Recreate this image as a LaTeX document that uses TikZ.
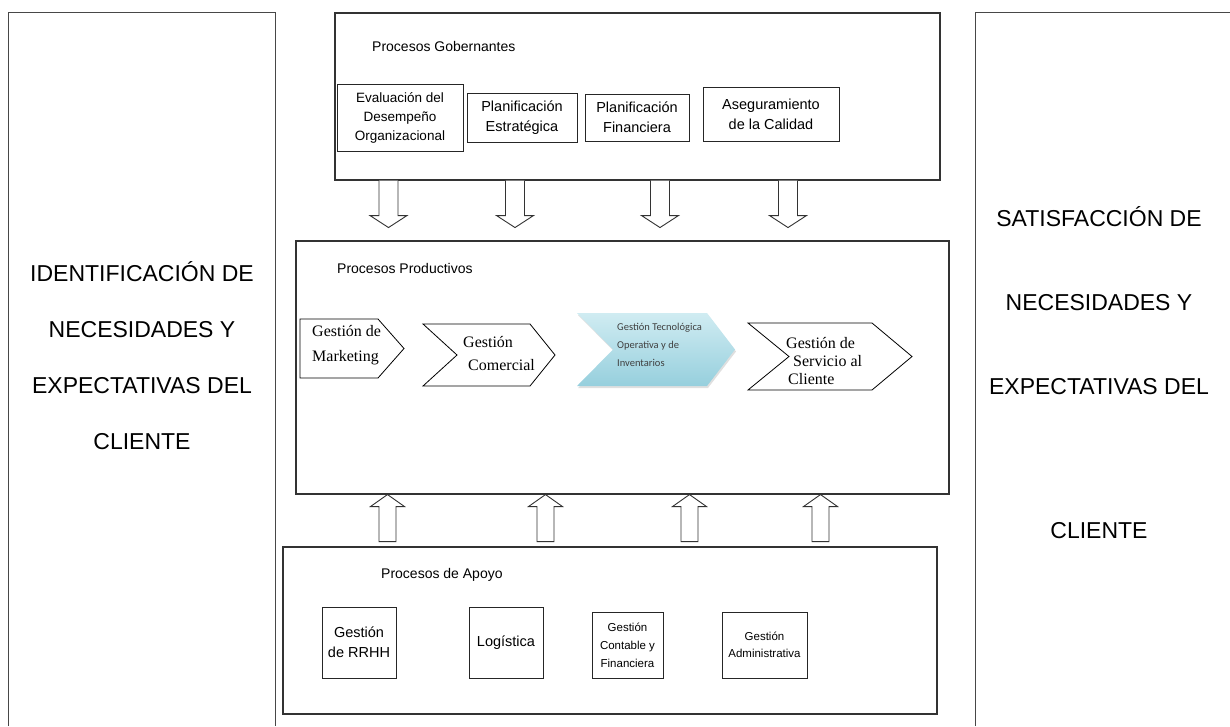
\documentclass[tikz,border=0pt]{standalone}
\usepackage{fontspec}
\setmainfont{Liberation Sans}
\newfontfamily\timesf{Liberation Serif}
\newfontfamily\calib{Carlito}
\usetikzlibrary{shadows}
\definecolor{tecTop}{RGB}{208,236,242}
\definecolor{tecBot}{RGB}{150,207,221}
\begin{document}
\begin{tikzpicture}[x=1pt,y=-1pt,
  frame/.style={draw=black!72, line width=1.3pt},
  bigbox/.style={draw=black!80, line width=1.1pt, inner sep=0},
  box/.style={draw=black!85, line width=1pt, inner sep=0, align=center},
  barrow/.style={draw=black!80, fill=white, line width=0.9pt, line join=miter},
  chev/.style={draw=black, line width=0.8pt, fill=white, line join=miter},
  sidetext/.style={align=center, inner sep=0},
  lbl/.style={anchor=west, inner sep=0, font=\fontsize{14}{16}\selectfont},
  ctext/.style={anchor=west, align=left, inner sep=0}
]
\useasboundingbox (0,0) rectangle (1230,726);

% side panels
\node (lp) at (142,369.5) [minimum width=266, minimum height=713, inner sep=0] {};
\draw[frame] (lp.south west) -- (lp.north west) -- (lp.north east) -- (lp.south east);
\node (rp) at (1104,369.5) [minimum width=256, minimum height=713, inner sep=0] {};
\draw[frame] (rp.south west) -- (rp.north west) -- (rp.north east);

\node[sidetext, font=\fontsize{23}{56}\selectfont] (ltxt) at (142,356)
  {IDENTIFICACIÓN DE\\NECESIDADES Y\\EXPECTATIVAS DEL\\CLIENTE};
\node[sidetext, font=\fontsize{23}{84}\selectfont] (rtxt) at (1099,373)
  {SATISFACCIÓN DE\\NECESIDADES Y\\EXPECTATIVAS DEL\\[60pt]CLIENTE};

% main boxes
\node[bigbox, minimum width=605, minimum height=167] (gob) at (637.5,96.5) {};
\node[bigbox, minimum width=653, minimum height=253] (prod) at (622.5,367.5) {};
\node[bigbox, minimum width=654, minimum height=167] (apo) at (610,630.5) {};

\node[lbl] (lgob) at (372,46) {Procesos Gobernantes};
\node[lbl] (lprod) at (337,268) {Procesos Productivos};
\node[lbl] (lapo) at (381,575) {Procesos de Apoyo};

% governing processes
\node[box, minimum width=126, minimum height=67, font=\fontsize{13.5}{19}\selectfont] (g1) at (400,117.5)
  {Evaluación del\\Desempeño\\Organizacional};
\node[box, minimum width=110, minimum height=49, font=\fontsize{14.5}{20}\selectfont] (g2) at (522,117.5)
  {Planificación\\Estratégica};
\node[box, minimum width=104, minimum height=47, font=\fontsize{14.5}{20}\selectfont] (g3) at (637,117.5)
  {Planificación\\Financiera};
\node[box, minimum width=136, minimum height=54, font=\fontsize{14.5}{20}\selectfont] (g4) at (771,114)
  {Aseguramiento\\de la Calidad};

% support processes
\node[box, minimum width=74, minimum height=71, font=\fontsize{14.5}{20}\selectfont] (s1) at (359,642.5)
  {Gestión\\de RRHH};
\node[box, minimum width=74, minimum height=71, font=\fontsize{14.5}{20}\selectfont] (s2) at (506,642.5)
  {Logística};
\node[box, minimum width=71, minimum height=66, font=\fontsize{11.5}{18}\selectfont] (s3) at (627.5,645)
  {Gestión\\Contable y\\Financiera};
\node[box, minimum width=85, minimum height=66, font=\fontsize{11.5}{17}\selectfont] (s4) at (764.5,645)
  {Gestión\\Administrativa};

% down block arrows
\foreach \x in {388.5,515,660,788}{
  \draw[barrow] ({\x-9.5},0 |- gob.south) -- ++(0,35) -- ++(-9,0) -- ++(18.5,12)
    -- ++(18.5,-12) -- ++(-9,0) -- ++(0,-35);
}
% up block arrows
\foreach \x in {387.5,545.5,689.5,820.5}{
  \draw[barrow] (\x,0 |- prod.south) -- ++(17,12) -- ++(-8.5,0) -- ++(0,35) -- ++(-17,0)
    -- ++(0,-35) -- ++(-8.5,0) -- cycle;
}

% productive chevrons
\draw[chev] (300,319) -- (378,319) -- (404,348.5) -- (378,378) -- (300,378) -- cycle;
\node[ctext, font=\timesf\fontsize{16}{25}\selectfont] (p1) at (312,345.5) {Gestión de\\Marketing};

\draw[chev] (423,324) -- (530,324) -- (555,355) -- (530,386) -- (423,386) -- (457,355) -- cycle;
\node[ctext, font=\timesf\fontsize{16}{23}\selectfont] (p2) at (463,353.5) {Gestión\\\hspace*{5pt}Comercial};

\shade[top color=tecTop, bottom color=tecBot, drop shadow={opacity=0.25, shadow xshift=1pt, shadow yshift=-2pt}]
  (577,313) -- (707,313) -- (735,349.5) -- (707,386) -- (577,386) -- (613,349.5) -- cycle;
\node[ctext, text=black!75, font=\calib\fontsize{10.5}{18}\selectfont] (p3) at (617,345)
  {Gestión Tecnológica\\Operativa y de\\Inventarios};

\draw[chev] (748,323) -- (872,323) -- (912,356.5) -- (872,390) -- (748,390) -- (789,356.5) -- cycle;
\node[ctext, font=\timesf\fontsize{16}{18}\selectfont] (p4) at (786,361)
  {Gestión de\\\hspace*{7pt}Servicio al\\\hspace*{2pt}Cliente};
\end{tikzpicture}
\end{document}
